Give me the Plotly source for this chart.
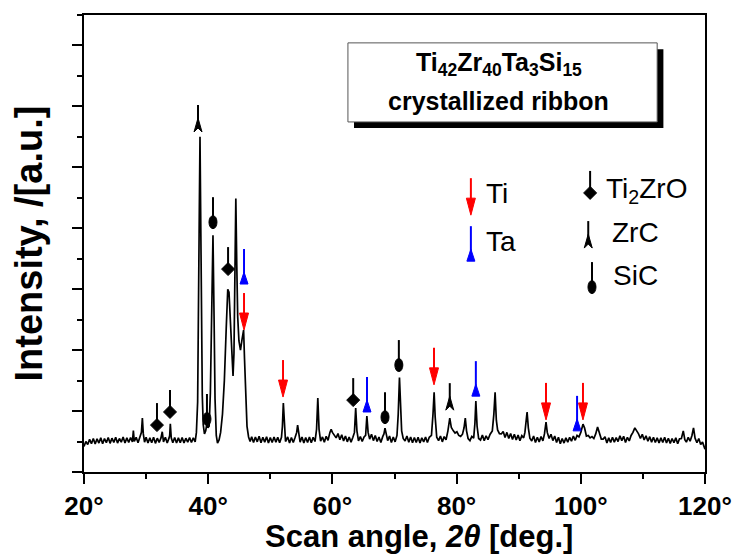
import plotly.graph_objects as go

# ---- XRD scan: 2-theta (deg) and intensity (a.u.) ----
two_theta = [
    20.0, 20.3, 20.6, 20.9, 21.2, 21.5, 21.8, 22.1,
    22.4, 22.7, 23.0, 23.3, 23.6, 23.9, 24.2, 24.5,
    24.8, 25.1, 25.4, 25.7, 26.0, 26.3, 26.6, 26.9,
    27.2, 27.5, 27.8, 27.95, 28.1, 28.4, 28.7, 29.0,
    29.25, 29.4, 29.55, 29.75, 30.0, 30.3, 30.6, 30.9,
    31.2, 31.5, 31.8, 32.1, 32.4, 32.6, 32.8, 33.1,
    33.4, 33.7, 33.8, 33.9, 34.05, 34.3, 34.6, 34.9,
    35.2, 35.5, 35.8, 36.1, 36.4, 36.7, 37.0, 37.3,
    37.6, 37.9, 38.1, 38.3, 38.45, 38.57, 38.68, 38.8,
    38.92, 39.05, 39.2, 39.4, 39.6, 39.8, 39.95, 40.15,
    40.35, 40.55, 40.77, 40.95, 41.1, 41.3, 41.5, 41.75,
    42.0, 42.3, 42.6, 42.9, 43.15, 43.35, 43.6, 43.85,
    44.0, 44.15, 44.3, 44.45, 44.6, 44.75, 44.95, 45.2,
    45.45, 45.7, 45.85, 46.05, 46.25, 46.5, 46.75, 47.0,
    47.3, 47.6, 47.9, 48.2, 48.5, 48.8, 49.1, 49.4,
    49.7, 50.0, 50.3, 50.6, 50.9, 51.2, 51.5, 51.8,
    51.95, 52.1, 52.25, 52.45, 52.8, 53.1, 53.4, 53.7,
    54.0, 54.25, 54.4, 54.55, 54.8, 55.1, 55.4, 55.7,
    56.0, 56.3, 56.6, 56.9, 57.2, 57.45, 57.65, 57.85,
    58.1, 58.4, 58.7, 59.0, 59.3, 59.6, 59.8, 60.0,
    60.3, 60.6, 60.9, 61.2, 61.5, 61.8, 62.1, 62.4,
    62.7, 63.0, 63.3, 63.55, 63.75, 63.95, 64.2, 64.5,
    64.8, 65.1, 65.35, 65.55, 65.75, 66.0, 66.3, 66.6,
    66.9, 67.2, 67.5, 67.8, 68.1, 68.3, 68.47, 68.65,
    68.9, 69.2, 69.5, 69.8, 70.1, 70.4, 70.6, 70.8,
    70.97, 71.15, 71.4, 71.7, 72.0, 72.3, 72.6, 72.9,
    73.2, 73.5, 73.8, 74.1, 74.4, 74.7, 75.0, 75.3,
    75.6, 75.95, 76.2, 76.38, 76.55, 76.8, 77.1, 77.4,
    77.7, 78.0, 78.3, 78.6, 78.9, 79.15, 79.45, 79.75,
    80.05, 80.35, 80.65, 80.95, 81.2, 81.4, 81.6, 81.85,
    82.15, 82.45, 82.75, 82.95, 83.1, 83.3, 83.55, 83.85,
    84.15, 84.45, 84.75, 85.05, 85.4, 85.75, 86.0, 86.2,
    86.4, 86.6, 86.9, 87.2, 87.5, 87.8, 88.1, 88.4,
    88.7, 89.0, 89.3, 89.6, 89.9, 90.2, 90.5, 90.8,
    91.0, 91.2, 91.35, 91.55, 91.8, 92.1, 92.4, 92.7,
    93.0, 93.3, 93.6, 93.9, 94.15, 94.4, 94.6, 94.9,
    95.2, 95.5, 95.8, 96.1, 96.4, 96.7, 97.0, 97.3,
    97.6, 97.9, 98.2, 98.5, 98.8, 99.1, 99.4, 99.7,
    100.0, 100.35, 100.6, 100.9, 101.2, 101.5, 101.8, 102.1,
    102.4, 102.7, 103.0, 103.3, 103.6, 103.9, 104.2, 104.5,
    104.8, 105.1, 105.4, 105.7, 106.0, 106.3, 106.6, 106.9,
    107.2, 107.5, 107.8, 108.1, 108.4, 108.7, 109.0, 109.3,
    109.6, 109.9, 110.2, 110.5, 110.8, 111.1, 111.4, 111.7,
    112.0, 112.3, 112.6, 112.9, 113.2, 113.5, 113.8, 114.1,
    114.4, 114.7, 115.0, 115.3, 115.6, 115.9, 116.2, 116.5,
    116.75, 117.0, 117.3, 117.6, 117.9, 118.15, 118.4, 118.7,
    119.0, 119.3, 119.6, 120.0,
]
intensity = [
    0.84, 1.00, 0.90, 1.07, 0.93, 1.10, 0.92, 1.09,
    0.95, 1.12, 0.93, 1.10, 0.96, 1.13, 0.94, 1.11,
    0.97, 1.14, 0.95, 1.10, 0.98, 1.15, 0.95, 1.12,
    0.97, 1.13, 0.99, 1.36, 1.00, 1.14, 0.96, 1.12,
    1.30, 1.77, 1.25, 0.98, 1.14, 0.95, 1.12, 0.96,
    1.14, 0.94, 1.11, 0.97, 1.12, 1.32, 0.99, 1.14,
    0.95, 1.12, 1.20, 1.58, 1.12, 0.96, 1.13, 0.95,
    1.12, 0.96, 1.13, 0.95, 1.11, 0.98, 1.13, 0.97,
    1.12, 0.99, 1.30, 2.30, 4.80, 8.60, 11.0, 8.40,
    4.80, 2.50, 1.55, 1.25, 1.35, 1.60, 1.45, 1.50,
    2.60, 5.20, 7.77, 5.00, 2.40, 1.20, 0.95, 1.05,
    1.30, 1.90, 3.00, 4.70, 6.00, 5.90, 4.90, 3.70,
    3.15, 3.90, 6.60, 8.98, 6.80, 5.10, 4.30, 4.00,
    4.35, 4.66, 3.70, 2.30, 1.50, 1.15, 1.00, 1.16,
    0.97, 1.15, 0.99, 1.17, 0.96, 1.14, 0.98, 1.16,
    0.95, 1.13, 0.97, 1.15, 0.98, 1.14, 0.96, 1.14,
    1.50, 2.26, 1.45, 1.00, 1.15, 0.95, 1.13, 0.97,
    1.14, 1.30, 1.54, 1.25, 0.98, 1.15, 0.95, 1.13,
    0.97, 1.15, 0.96, 1.14, 1.00, 1.40, 2.43, 1.40,
    1.01, 1.15, 0.98, 1.17, 1.04, 1.30, 1.40, 1.30,
    1.21, 1.12, 1.26, 1.06, 1.22, 1.02, 1.18, 0.99,
    1.15, 0.98, 1.14, 1.30, 2.10, 1.35, 1.02, 1.16,
    1.00, 1.15, 1.20, 1.84, 1.30, 1.08, 1.24, 1.03,
    1.20, 1.00, 1.15, 0.97, 1.16, 1.25, 1.44, 1.20,
    1.03, 1.18, 0.97, 1.15, 0.99, 1.20, 1.90, 3.10,
    2.00, 1.35, 1.10, 1.02, 1.18, 0.98, 1.15, 0.96,
    1.13, 0.97, 1.14, 0.95, 1.12, 0.99, 1.15, 0.97,
    1.14, 1.20, 1.90, 2.62, 1.80, 1.14, 1.03, 1.18,
    0.99, 1.16, 1.06, 1.35, 1.77, 1.46, 1.36, 1.28,
    1.32, 1.20, 1.17, 1.24, 1.45, 1.77, 1.35, 1.10,
    1.03, 1.17, 1.11, 1.60, 2.33, 1.50, 1.10, 1.05,
    1.21, 1.03, 1.19, 1.06, 1.24, 1.35, 1.90, 2.62,
    1.70, 1.38, 1.26, 1.25, 1.33, 1.13, 1.30, 1.10,
    1.26, 1.07, 1.24, 1.05, 1.21, 1.03, 1.19, 1.12,
    1.30, 1.75, 1.97, 1.45, 1.11, 1.02, 1.18, 0.97,
    1.14, 0.99, 1.16, 1.02, 1.25, 1.64, 1.30, 1.10,
    1.24, 1.03, 1.18, 0.97, 1.14, 0.93, 1.10, 0.95,
    1.12, 0.98, 1.14, 1.01, 1.18, 1.04, 1.20, 1.15,
    1.30, 1.57, 1.45, 1.18, 1.20, 1.12, 1.16, 1.10,
    1.25, 1.48, 1.30, 1.08, 1.08, 1.16, 0.95, 1.12,
    0.97, 1.14, 0.98, 1.13, 1.00, 1.19, 1.03, 1.17,
    0.97, 1.14, 1.02, 1.20, 1.30, 1.45, 1.35, 1.25,
    1.10, 1.24, 1.05, 1.19, 1.01, 1.16, 0.98, 1.14,
    0.97, 1.12, 0.95, 1.12, 0.97, 1.14, 0.95, 1.11,
    0.94, 1.10, 0.96, 1.12, 0.93, 1.09, 1.10, 1.35,
    1.06, 0.98, 1.14, 1.01, 1.20, 1.45, 1.11, 0.96,
    1.10, 0.90, 0.98, 0.75,
]
assert len(two_theta) == len(intensity)

# ---- phase reflections: (2-theta, intensity where the marker sits) ----
ti_pos = [45.77, 52.05, 76.36, 94.4, 100.35]        # arrow tip
ti_lvl = [4.66, 2.46, 2.86, 1.71, 1.71]
ta_pos = [45.77, 65.57, 83.1, 99.4]                 # triangle base
ta_lvl = [6.17, 1.97, 2.49, 1.35]
ti2zro_pos = [31.75, 33.85, 43.2, 63.35]            # diamond centre
ti2zro_lvl = [1.54, 1.97, 6.66, 2.36]
zrc_pos = [38.36, 78.9]                             # caret base
zrc_lvl = [11.16, 2.03]
sic_pos = [39.8, 40.77, 68.47, 70.7]                # ellipse centre
sic_lvl = [1.74, 8.2, 1.8, 3.51]

# key entries: label, 2-theta, level
key_ti = ("Ti", 82.3, 8.43)
key_ta = ("Ta", 82.3, 6.92)
key_ti2zro = ("Ti<sub>2</sub>ZrO", 101.5, 9.16)
key_zrc = ("ZrC", 101.2, 7.35)
key_sic = ("SiC", 101.8, 6.07)

RED = "#ff0000"
BLUE = "#0000ff"
BLACK = "#000000"
FONT = "Liberation Sans, Arial, sans-serif"


def px_line(x, y, y0, y1, color):
    return dict(type="line", xref="x", yref="y", xsizemode="pixel", ysizemode="pixel",
                xanchor=x, yanchor=y, x0=0, x1=0, y0=y0, y1=y1,
                line=dict(color=color, width=2))


def px_path(x, y, path, color):
    return dict(type="path", xref="x", yref="y", xsizemode="pixel", ysizemode="pixel",
                xanchor=x, yanchor=y, path=path, fillcolor=color,
                line=dict(color=color, width=1))


def ti_marker(x, y):
    return [px_line(x, y, 15, 37, RED), px_path(x, y, "M -4.5,17 L 4.5,17 L 0,0 Z", RED)]


def ta_marker(x, y):
    return [px_line(x, y, 8, 35, BLUE), px_path(x, y, "M -4,0 L 4,0 L 0,12 Z", BLUE)]


def ti2zro_marker(x, y):
    return [px_line(x, y, 5, 22, BLACK),
            px_path(x, y, "M 0,-6.5 L 6.5,0 L 0,6.5 L -6.5,0 Z", BLACK)]


def zrc_marker(x, y):
    return [px_line(x, y, 8, 27, BLACK), px_path(x, y, "M -4,0 L 0,14 L 4,0 L 0,4 Z", BLACK)]


def sic_marker(x, y):
    return [px_line(x, y, 4, 25, BLACK),
            dict(type="circle", xref="x", yref="y", xsizemode="pixel", ysizemode="pixel",
                 xanchor=x, yanchor=y, x0=-4, x1=4, y0=-6.5, y1=6.5,
                 fillcolor=BLACK, line=dict(color=BLACK, width=1))]


shapes = []
for xs, ys, fn in [(ti_pos, ti_lvl, ti_marker), (ta_pos, ta_lvl, ta_marker),
                   (ti2zro_pos, ti2zro_lvl, ti2zro_marker), (zrc_pos, zrc_lvl, zrc_marker),
                   (sic_pos, sic_lvl, sic_marker)]:
    for x, y in zip(xs, ys):
        shapes += fn(x, y)

# key glyphs
shapes += ti_marker(key_ti[1], key_ti[2])
shapes += ta_marker(key_ta[1], key_ta[2])
shapes += ti2zro_marker(key_ti2zro[1], key_ti2zro[2])
shapes += zrc_marker(key_zrc[1], key_zrc[2])
shapes += sic_marker(key_sic[1], key_sic[2])

# sample label box with drop shadow
shapes.insert(0, dict(type="rect", xref="paper", yref="paper", x0=0.4348, x1=0.933,
                      y0=0.753, y1=0.925, fillcolor=BLACK, line=dict(width=0), layer="above"))
shapes.insert(1, dict(type="rect", xref="paper", yref="paper", x0=0.425, x1=0.923,
                      y0=0.766, y1=0.939, fillcolor="white",
                      line=dict(color="#555555", width=1), layer="above"))

fig = go.Figure()
fig.add_trace(go.Scatter(x=two_theta, y=intensity, mode="lines",
                         line=dict(color=BLACK, width=1.7), hoverinfo="skip",
                         showlegend=False))

annotations = [
    dict(text="<b>Ti<sub>42</sub>Zr<sub>40</sub>Ta<sub>3</sub>Si<sub>15</sub></b>",
         xref="paper", yref="paper", x=0.668, y=0.893, xanchor="center", yanchor="middle",
         showarrow=False, font=dict(family=FONT, size=25, color=BLACK)),
    dict(text="<b>crystallized ribbon</b>",
         xref="paper", yref="paper", x=0.668, y=0.812, xanchor="center", yanchor="middle",
         showarrow=False, font=dict(family=FONT, size=25, color=BLACK)),
    dict(text="<b>Scan angle, <i>2θ</i> [deg.]</b>", xref="paper", yref="paper",
         x=0.539, y=0, yshift=-64, xanchor="center", yanchor="middle", showarrow=False,
         font=dict(family=FONT, size=31, color=BLACK)),
    dict(text="<b>Intensity, /[a.u.]</b>", xref="paper", yref="paper",
         x=0, xshift=-56, y=0.5, xanchor="center", yanchor="middle", textangle=-90,
         showarrow=False, font=dict(family=FONT, size=38, color=BLACK)),
]
for label, x, y, dx, dy in [
    (key_ti[0], key_ti[1], key_ti[2], 13, 22),
    (key_ta[0], key_ta[1], key_ta[2], 13, 20),
    (key_ti2zro[0], key_ti2zro[1], key_ti2zro[2], 14, 2),
    (key_zrc[0], key_zrc[1], key_zrc[2], 22, 16),
    (key_sic[0], key_sic[1], key_sic[2], 19, 12),
]:
    annotations.append(dict(text=label, x=x, y=y, xref="x", yref="y", xshift=dx, yshift=dy,
                            xanchor="left", yanchor="middle", showarrow=False,
                            font=dict(family=FONT, size=28, color=BLACK)))

fig.update_layout(
    width=734, height=555,
    margin=dict(l=84, r=29, t=15, b=83, autoexpand=False),
    paper_bgcolor="white", plot_bgcolor="white",
    shapes=shapes, annotations=annotations,
    xaxis=dict(range=[20, 120], tick0=20, dtick=20, ticksuffix="°", automargin=False,
               ticks="outside", ticklen=10, tickwidth=1.5, tickcolor=BLACK,
               minor=dict(dtick=10, ticks="outside", ticklen=5, tickwidth=1.5, tickcolor=BLACK),
               showline=True, linecolor=BLACK, linewidth=2, mirror=True,
               showgrid=False, zeroline=False,
               tickfont=dict(family=FONT, size=26, color=BLACK, weight="bold")),
    yaxis=dict(range=[0, 15], tick0=0, dtick=2, showticklabels=False, automargin=False,
               ticks="outside", ticklen=10, tickwidth=1.5, tickcolor=BLACK,
               minor=dict(dtick=1, ticks="outside", ticklen=5, tickwidth=1.5, tickcolor=BLACK),
               showline=True, linecolor=BLACK, linewidth=2, mirror=True,
               showgrid=False, zeroline=False),
)

fig.write_html("out.html")
